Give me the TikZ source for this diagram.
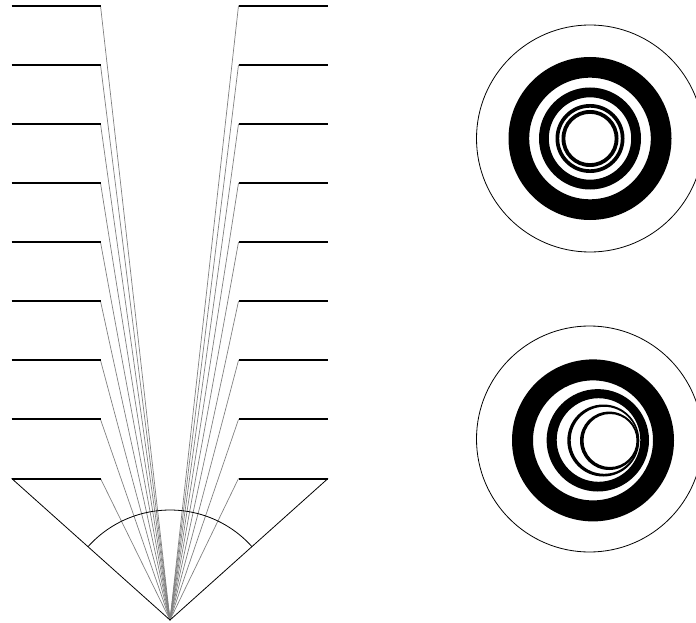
\documentclass[tikz,border=0pt]{standalone}
\usepackage{tikz}
\usetikzlibrary{calc}
\tikzset{
	wallline/.style={
			draw=black,
			line width=2pt
		},
	rayline/.style={
			draw=gray,
			line width=0.7pt
		},
	fovline/.style={
			draw=black,
			line width=0.8pt
		},
	ringfill/.style={
			fill=black,
			even odd rule
		}
}

\begin{document}
\begin{tikzpicture}[x=1pt, y=-1pt]
\useasboundingbox (0,0) rectangle (696,623);
\coordinate (apex) at (170,620);
\foreach \i in {0,...,8} {
	\pgfmathsetmacro{\wy}{5.7+59.1*\i}
	\coordinate (lo\i) at (11.7,\wy);
	\coordinate (li\i) at (100.5,\wy);
	\coordinate (ri\i) at (238.5,\wy);
	\coordinate (ro\i) at (328,\wy);
	\draw[rayline] (li\i) -- (apex);
	\draw[rayline] (ri\i) -- (apex);
	\draw[wallline] (lo\i) -- (li\i);
	\draw[wallline] (ri\i) -- (ro\i);
}
\draw[fovline] (lo8) -- (apex) -- (ro8);
\draw[fovline] ($(apex)!110pt!(lo8)$) arc[start angle=221.8, end angle=318.2, radius=110];

% straight view
\coordinate (topc) at (590,138.5);
\draw[fovline] (topc) circle (113.5);
\fill[ringfill] (topc) circle (81.5) (topc) circle (60.8);
\fill[ringfill] (topc) circle (51) (topc) circle (41.2);
\fill[ringfill] (topc) circle (34.5) (topc) circle (30.8);
\fill[ringfill] (topc) circle (28.5) (topc) circle (24.7);

% tilted view
\coordinate (botc) at (589.5,439);
\coordinate (b1) at (593,440.4);
\coordinate (b2o) at (597.8,440.3);
\coordinate (b2i) at (598.5,440);
\coordinate (b3o) at (603.3,440.5);
\coordinate (b3i) at (604.2,440.3);
\coordinate (b4o) at (609.2,440.8);
\coordinate (b4i) at (610,440.5);
\draw[fovline] (botc) circle (113);
\fill[ringfill] (b1) circle (81) (b1) circle (60);
\fill[ringfill] (b2o) circle (51.2) (b2i) circle (41.8);
\fill[ringfill] (b3o) circle (36) (b3i) circle (33.5);
\fill[ringfill] (b4o) circle (29.2) (b4i) circle (26.5);
\end{tikzpicture}
\end{document}
